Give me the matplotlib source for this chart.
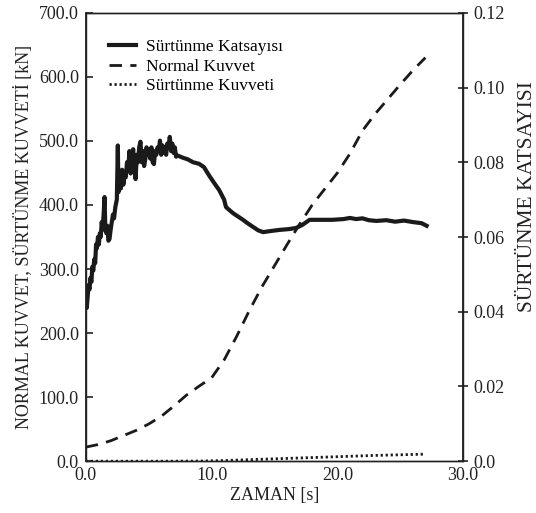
import matplotlib
matplotlib.use("Agg")
import matplotlib.pyplot as plt

# Friction coefficient (right axis)
t_mu = [0.0, 0.075, 0.15, 0.22, 0.30, 0.37, 0.45, 0.52, 0.60, 0.67, 0.75, 0.82, 0.89, 0.97, 1.04,
        1.12, 1.19, 1.27, 1.34, 1.42, 1.49,
        1.56, 1.64, 1.72, 1.80, 1.89, 1.98, 2.07, 2.16, 2.25, 2.35, 2.47, 2.55,
        2.60, 2.70, 2.79, 2.89, 2.99, 3.09, 3.18, 3.28, 3.38, 3.47, 3.57, 3.67, 3.77, 3.86, 3.96,
        4.06, 4.15, 4.25, 4.35, 4.45, 4.54, 4.64, 4.74, 4.83, 4.93, 5.03, 5.12, 5.22, 5.32, 5.42,
        5.51, 5.61, 5.71, 5.80, 5.90, 6.00, 6.10, 6.19, 6.29, 6.39, 6.48, 6.58, 6.68,
        6.78, 6.88, 6.98, 7.08, 7.18, 7.30, 7.74, 8.10, 8.54, 9.0, 9.4, 9.8, 10.2, 10.6, 11.0,
        11.15, 11.7, 12.1, 12.5, 12.9, 13.3, 13.7, 14.1, 14.7, 15.4, 16.1, 16.7, 17.2, 17.8,
        18.7, 19.6, 20.5, 21.0, 21.5, 22.0, 22.5, 23.1, 23.9, 24.6, 25.3, 26.0, 26.7, 27.1]
mu = [0.047, 0.041, 0.044, 0.047, 0.046, 0.049, 0.048, 0.052, 0.051, 0.054, 0.053, 0.058, 0.057,
      0.060, 0.058, 0.061, 0.060, 0.064, 0.062, 0.066, 0.0707,
      0.062, 0.061, 0.063, 0.059, 0.0595, 0.062, 0.064, 0.066, 0.065, 0.068, 0.070, 0.0845,
      0.072, 0.076, 0.073, 0.078, 0.074, 0.077, 0.076, 0.080, 0.078, 0.083, 0.077, 0.081, 0.0835,
      0.079, 0.0755, 0.082, 0.080, 0.084, 0.0855, 0.080, 0.083, 0.079, 0.081, 0.084, 0.082,
      0.0835, 0.081, 0.084, 0.080, 0.0795, 0.083, 0.082, 0.084, 0.083, 0.0858, 0.082, 0.0845,
      0.0825, 0.084, 0.082, 0.085, 0.084, 0.0868,
      0.083, 0.085, 0.0825, 0.084, 0.0815, 0.0818, 0.0812, 0.0808, 0.0800, 0.0796, 0.0787,
      0.0765, 0.0745, 0.0726, 0.0700, 0.0680, 0.0664, 0.0655, 0.0646, 0.0636, 0.0627, 0.0618,
      0.0613, 0.0616, 0.0619, 0.0621, 0.0624, 0.0632, 0.0646, 0.0646, 0.0646, 0.0648, 0.0651,
      0.0648, 0.0650, 0.0645, 0.0643, 0.0645, 0.0641, 0.0644, 0.0640, 0.0637, 0.0630]

# Normal force [kN]
t_n = [0, 1, 2, 3, 4, 5, 6, 7, 8, 9, 10, 11, 12, 13, 14, 15, 16, 17, 18, 19, 20, 21, 22, 23, 24,
       25, 26, 27]
normal = [22, 26, 32, 40, 48, 58, 70, 86, 103, 117, 130, 158, 195, 235, 272, 305, 338, 370, 400,
          425, 450, 480, 516, 542, 565, 588, 610, 630]

# Friction force [kN]
t_f = [0, 3, 6, 9, 11, 14, 17, 20, 23, 27]
friction = [0.0, 0.0, 0.0, 0.2, 1.0, 3.0, 5.0, 7.0, 9.0, 11.0]

left_ticks = [0, 100, 200, 300, 400, 500, 600, 700]
right_ticks = [0.0, 0.02, 0.04, 0.06, 0.08, 0.10, 0.12]
right_labels = ["0.0", "0.02", "0.04", "0.06", "0.08", "0.10", "0.12"]
x_ticks = [0, 10, 20, 30]

plt.rcParams['font.family'] = ['Liberation Serif', 'DejaVu Serif']
plt.rcParams['font.size'] = 13

fig = plt.figure(figsize=(5.36, 5.13), dpi=100)
ax = fig.add_axes([0.160, 0.101, 0.704, 0.874])
ax2 = ax.twinx()

col = '#1a1a1a'
l2, = ax.plot(t_n, normal, color=col, lw=2.0, linestyle=(0, (4.5, 3)))
l3, = ax.plot(t_f, friction, color=col, lw=2.0, linestyle=(0, (0.8, 1.0)))
l1, = ax2.plot(t_mu, mu, color=col, lw=3.0, solid_joinstyle='round')

ax.set_xlim(0, 30)
ax.set_ylim(0, 700)
ax2.set_ylim(0, 0.12)
ax.set_xticks(x_ticks)
ax.set_xticklabels([f"{v:.1f}" for v in x_ticks])
ax.set_yticks(left_ticks)
ax.set_yticklabels([f"{v:.1f}" for v in left_ticks])
ax2.set_yticks(right_ticks)
ax2.set_yticklabels(right_labels)

ax.tick_params(axis='x', length=0, pad=4, colors='#222222')
ax.tick_params(axis='y', direction='in', length=5, width=1.2, pad=5, colors='#222222')
ax2.tick_params(axis='y', direction='inout', length=7, width=1.2, pad=4, colors='#222222')

for a in (ax, ax2):
    for s in a.spines.values():
        s.set_color('#222222')
        s.set_linewidth(1.0)
ax2.spines['right'].set_linewidth(1.3)
ax.spines['left'].set_linewidth(1.3)

ax.set_xlabel("ZAMAN [s]", labelpad=2, color='#222222')
ax.set_ylabel("NORMAL KUVVET, SÜRTÜNME KUVVETİ [kN]", labelpad=4, color='#222222')
ax2.set_ylabel("SÜRTÜNME KATSAYISI", color='#222222', fontsize=15.5)
ax2.yaxis.set_label_coords(1.145, 0.59)

ax.legend([l1, l2, l3], ["Sürtünme Katsayısı", "Normal Kuvvet", "Sürtünme Kuvveti"],
          loc='upper left', bbox_to_anchor=(0.033, 0.965), frameon=False, fontsize=12.5,
          handlelength=1.6, handletextpad=0.55, labelspacing=0.2, borderaxespad=0.2)

fig.savefig("out.png", dpi=100)
